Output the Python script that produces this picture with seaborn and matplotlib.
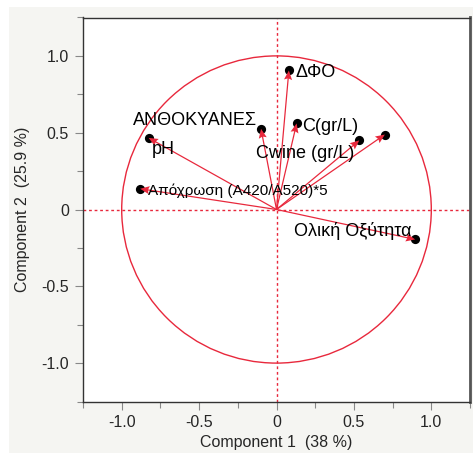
import numpy as np
import pandas as pd
import matplotlib
matplotlib.use("Agg")
import matplotlib.pyplot as plt
import seaborn as sns
from matplotlib.patches import Circle, Rectangle
from matplotlib.ticker import MultipleLocator, FuncFormatter

# Loadings of each variable on the first two principal components
variables = ["ΔΦΟ", "ΑΝΘΟΚΥΑΝΕΣ", "C(gr/L)", "Cwine (gr/L)", "", "pH",
             "Απόχρωση (A420/A520)*5", "Ολική Οξύτητα"]
comp1 = [0.08, -0.10, 0.13, 0.535, 0.70, -0.826, -0.881, 0.896]
comp2 = [0.905, 0.525, 0.56, 0.45, 0.488, 0.466, 0.135, -0.195]

x_label = "Component 1  (38 %)"
y_label = "Component 2  (25.9 %)"

df = pd.DataFrame({"variable": variables, "pc1": comp1, "pc2": comp2})

RED = "#e8283c"
BG = "#f5f5f2"

sns.set_style("white")
plt.rcParams["font.family"] = ["Liberation Sans", "DejaVu Sans"]

fig = plt.figure(figsize=(4.73, 4.53), dpi=100)
fig.patch.set_facecolor("white")
fig.patches.append(Rectangle((9 / 473, 0), 1 - 9 / 473, 1 - 7 / 453,
                             transform=fig.transFigure, facecolor=BG,
                             edgecolor="none", zorder=-10))

ax = fig.add_axes([83 / 473, 51.5 / 453, 387 / 473, 384 / 453])
ax.set_facecolor("white")

ax.set_xlim(-1.25, 1.25)
ax.set_ylim(-1.25, 1.25)

# unit circle and dotted reference lines through the origin
ax.add_patch(Circle((0, 0), 1.0, fill=False, edgecolor=RED, lw=1.0, zorder=2))
ax.axhline(0, color=RED, lw=1.0, ls=(0, (2, 2)), zorder=1)
ax.axvline(0, color=RED, lw=1.0, ls=(0, (2, 2)), zorder=1)

# endpoint markers (kept underneath the arrow heads)
sns.scatterplot(data=df, x="pc1", y="pc2", ax=ax, color="black", s=44,
                edgecolor="black", linewidth=0, legend=False)
dots = ax.collections[-1]
dots.set_zorder(2.5)

# loading vectors from the origin, tips exactly on the loadings
n = len(df)
q = ax.quiver(np.zeros(n), np.zeros(n), df["pc1"], df["pc2"],
              angles="xy", scale_units="xy", scale=1, color=RED,
              width=0.0032, headwidth=6.5, headlength=7.5,
              headaxislength=6.5)
q.set_zorder(8)

# label placement (offset in points, alignment, size)
placement = {
    "ΔΦΟ": ((5, -1.5), "left", 13),
    "ΑΝΘΟΚΥΑΝΕΣ": ((-3, 6), "right", 13),
    "C(gr/L)": ((4.3, -2), "left", 13),
    "Cwine (gr/L)": ((-3.6, -9.8), "right", 13),
    "pH": ((2.5, -8), "left", 13),
    "Απόχρωση (A420/A520)*5": ((5.5, -1.7), "left", 11),
    "Ολική Οξύτητα": ((-2.4, 6), "right", 13),
}
for name, px, py in zip(df["variable"], df["pc1"], df["pc2"]):
    if not name:
        continue
    off, ha, size = placement[name]
    ax.annotate(name, xy=(px, py), xytext=off, textcoords="offset points",
                ha=ha, va="center", fontsize=size, color="black", zorder=9)

ax.xaxis.set_major_locator(MultipleLocator(0.5))
ax.yaxis.set_major_locator(MultipleLocator(0.5))
ax.xaxis.set_minor_locator(MultipleLocator(0.25))
ax.yaxis.set_minor_locator(MultipleLocator(0.25))

fmt = FuncFormatter(lambda v, p: "0" if abs(v) < 1e-9 else f"{v:.1f}")
ax.xaxis.set_major_formatter(fmt)
ax.yaxis.set_major_formatter(fmt)

ax.tick_params(axis="both", which="major", direction="out", length=6,
               width=0.8, color="#888888", labelsize=11.5, pad=4,
               bottom=True, left=True, top=False, right=False)
ax.tick_params(axis="both", which="minor", direction="out", length=4,
               width=0.8, color="#888888", bottom=True, left=True,
               top=False, right=False)

for s in ax.spines.values():
    s.set_color("#333333")
    s.set_linewidth(1.0)
ax.spines["right"].set_linewidth(2.0)
ax.spines["right"].set_color("#555555")

ax.set_xlabel(x_label, fontsize=11.5, labelpad=3)
ax.set_ylabel(y_label, fontsize=11.5, labelpad=8)

fig.savefig("out.png", dpi=100, facecolor=fig.get_facecolor())
